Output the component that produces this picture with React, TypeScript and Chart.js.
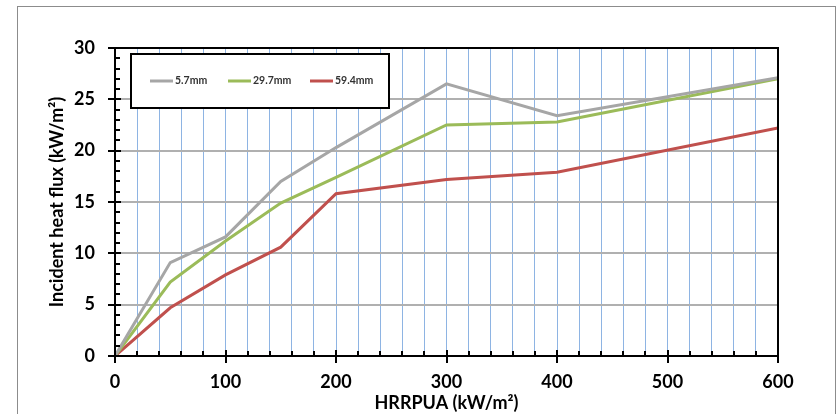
import { useEffect, useRef } from "react";
import { Chart, registerables } from "chart.js";

Chart.register(...registerables);

const hrrpua = [0, 50, 100, 150, 200, 300, 400, 600];
const flux57 = [0, 9.1, 11.6, 17.0, 20.3, 26.5, 23.4, 27.1];
const flux297 = [0, 7.2, 11.2, 14.9, 17.4, 22.5, 22.8, 27.0];
const flux594 = [0, 4.7, 7.9, 10.6, 15.8, 17.2, 17.9, 22.2];
const seriesLabels = ["5.7mm", "29.7mm", "59.4mm"];
const seriesColors = ["#a6a6a6", "#9bbb59", "#c0504d"];
const xTitle = "HRRPUA (kW/m²)";
const yTitle = "Incident heat flux (kW/m²)";

const FONT = "Lato, 'Open Sans', sans-serif";

const framePlugin = {
  id: "frame",
  beforeDraw(chart: any) {
    const { ctx, width, height } = chart;
    ctx.save();
    ctx.fillStyle = "#ffffff";
    ctx.fillRect(0, 0, width, height);
    ctx.strokeStyle = "#8c8c8c";
    ctx.lineWidth = 1;
    ctx.strokeRect(17.5, 6.5, 818, height + 20);
    ctx.restore();
  },
};

const axesPlugin = {
  id: "axesBox",
  afterDatasetsDraw(chart: any) {
    const { ctx, chartArea } = chart;
    const xs = chart.scales.x;
    const ys = chart.scales.y;
    const { left, right, top, bottom } = chartArea;
    ctx.save();
    ctx.strokeStyle = "#000000";
    ctx.lineWidth = 2;
    ctx.beginPath();
    ctx.rect(left, top, right - left, bottom - top);
    ctx.stroke();
    ctx.beginPath();
    for (let v = 0; v <= 30; v += 1) {
      const y = Math.round(ys.getPixelForValue(v));
      if (v % 5 === 0) {
        ctx.moveTo(left - 7, y);
        ctx.lineTo(left + 6, y);
      } else {
        ctx.moveTo(left, y);
        ctx.lineTo(left + 5, y);
      }
    }
    for (let v = 0; v <= 600; v += 20) {
      const x = Math.round(xs.getPixelForValue(v));
      if (v % 100 === 0) {
        ctx.moveTo(x, bottom + 7);
        ctx.lineTo(x, bottom - 6);
      } else {
        ctx.moveTo(x, bottom);
        ctx.lineTo(x, bottom - 5);
      }
    }
    ctx.stroke();
    ctx.restore();
  },
};

const legendPlugin = {
  id: "boxLegend",
  afterDraw(chart: any) {
    const { ctx } = chart;
    const bx = 131, by = 54, bw = 258, bh = 54;
    ctx.save();
    ctx.fillStyle = "#ffffff";
    ctx.fillRect(bx, by, bw, bh);
    ctx.strokeStyle = "#000000";
    ctx.lineWidth = 2;
    ctx.strokeRect(bx, by, bw, bh);
    const starts = [150, 228, 310];
    const cy = by + bh / 2;
    ctx.font = `bold 10.5px ${FONT}`;
    ctx.textBaseline = "middle";
    ctx.textAlign = "left";
    chart.data.datasets.forEach((ds: any, i: number) => {
      const sx = starts[i];
      ctx.strokeStyle = ds.borderColor;
      ctx.lineWidth = 3;
      ctx.beginPath();
      ctx.moveTo(sx, cy);
      ctx.lineTo(sx + 23, cy);
      ctx.stroke();
      ctx.fillStyle = "#333333";
      ctx.fillText(ds.label, sx + 25, cy);
    });
    ctx.restore();
  },
};

export default function App() {
  const ref = useRef<HTMLCanvasElement>(null);
  useEffect(() => {
    if (!ref.current) return;
    const series = [flux57, flux297, flux594];
    const chart = new Chart(ref.current, {
      type: "line",
      data: {
        datasets: series.map((vals, i) => ({
          label: seriesLabels[i],
          data: hrrpua.map((x, j) => ({ x, y: vals[j] })),
          borderColor: seriesColors[i],
          backgroundColor: seriesColors[i],
          borderWidth: 3,
          pointRadius: 0,
          tension: 0,
          fill: false,
        })),
      },
      options: {
        responsive: false,
        animation: false,
        devicePixelRatio: 1,
        layout: { padding: { left: 0, top: 48, right: 59, bottom: 0 } },
        plugins: { legend: { display: false }, tooltip: { enabled: false } },
        scales: {
          x: {
            type: "linear",
            min: 0,
            max: 600,
            afterFit: (s: any) => {
              s.height = 58;
            },
            ticks: {
              stepSize: 20,
              autoSkip: false,
              maxRotation: 0,
              padding: 15,
              color: "#000",
              font: { family: FONT, size: 18, weight: "bold" },
              callback: (v: any) => (Number(v) % 100 === 0 ? String(v) : ""),
            },
            grid: { color: "#8eb4e3", lineWidth: 1, drawTicks: false },
            border: { display: false },
            title: {
              display: true,
              text: xTitle,
              color: "#000",
              font: { family: FONT, size: 18, weight: "bold" },
              padding: { top: 0, bottom: 0 },
            },
          },
          y: {
            min: 0,
            max: 30,
            afterFit: (s: any) => {
              s.width = 115;
            },
            ticks: {
              stepSize: 5,
              padding: 20,
              color: "#000",
              font: { family: FONT, size: 18, weight: "bold" },
            },
            grid: { color: "#b0b0b0", lineWidth: 2, drawTicks: false },
            border: { display: false },
            title: {
              display: true,
              text: yTitle,
              color: "#000",
              font: { family: FONT, size: 18, weight: "bold" },
              padding: { top: 46, bottom: 0 },
            },
          },
        },
      },
      plugins: [framePlugin, axesPlugin, legendPlugin],
    });
    return () => chart.destroy();
  }, []);
  return (
    <div style={{ position: "fixed", left: 0, top: 0, width: 837, height: 414 }}>
      <canvas ref={ref} width={837} height={414} style={{ display: "block" }} />
    </div>
  );
}
